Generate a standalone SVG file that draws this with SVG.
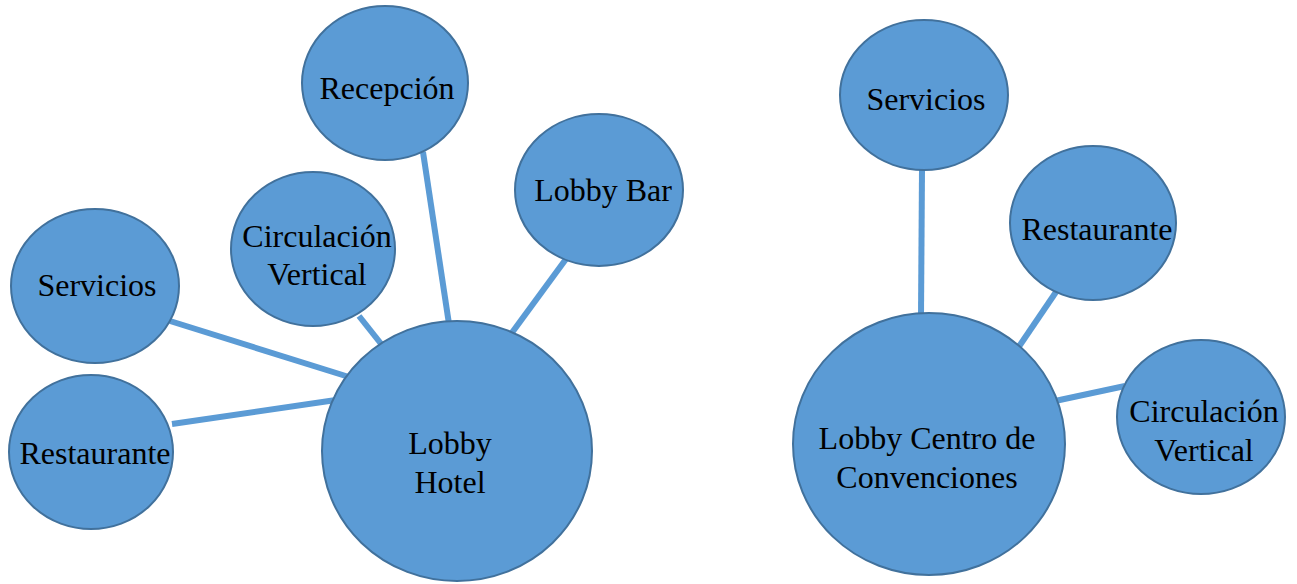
<svg xmlns="http://www.w3.org/2000/svg" width="1297" height="584" viewBox="0 0 1297 584">
<style>
.n{fill:#5b9bd5;stroke:#41719c;stroke-width:2}
.c{stroke:#5b9bd5;stroke-width:6;fill:none}
text{font-family:"Liberation Serif","Times New Roman",serif;font-size:32px;fill:#000;text-anchor:middle}
</style>
<rect width="1297" height="584" fill="#fff"/>
<g id="connectors">
<line class="c" x1="423" y1="152" x2="449" y2="324"/>
<line class="c" x1="566" y1="259" x2="511" y2="334"/>
<line class="c" x1="359" y1="316" x2="382" y2="345"/>
<line class="c" x1="170" y1="321" x2="349" y2="377"/>
<line class="c" x1="172" y1="424" x2="336" y2="400"/>
<line class="c" x1="922" y1="169" x2="921" y2="316"/>
<line class="c" x1="1056" y1="292" x2="1018" y2="348"/>
<line class="c" x1="1125" y1="386" x2="1055" y2="401"/>
</g>
<g id="recepcion"><ellipse class="n" cx="385" cy="83" rx="83" ry="77"/><text x="387" y="99">Recepción</text></g>
<g id="lobby-bar"><ellipse class="n" cx="599" cy="190" rx="84" ry="76"/><text x="603" y="201">Lobby Bar</text></g>
<g id="circulacion-hotel"><ellipse class="n" cx="313" cy="249" rx="82" ry="77"/><text x="317" y="247">Circulación</text><text x="317" y="285">Vertical</text></g>
<g id="servicios-hotel"><ellipse class="n" cx="95" cy="286" rx="84" ry="77"/><text x="97" y="296">Servicios</text></g>
<g id="restaurante-hotel"><ellipse class="n" cx="91" cy="452" rx="82" ry="77"/><text x="95" y="464">Restaurante</text></g>
<g id="lobby-hotel"><ellipse class="n" cx="457" cy="451" rx="135" ry="130"/><text x="450" y="454">Lobby</text><text x="450" y="493">Hotel</text></g>
<g id="servicios-centro"><ellipse class="n" cx="924" cy="95" rx="84" ry="75"/><text x="926" y="110">Servicios</text></g>
<g id="restaurante-centro"><ellipse class="n" cx="1093" cy="223" rx="83" ry="77"/><text x="1097" y="240">Restaurante</text></g>
<g id="circulacion-centro"><ellipse class="n" cx="1201" cy="417" rx="84" ry="77"/><text x="1204" y="422">Circulación</text><text x="1204" y="461">Vertical</text></g>
<g id="lobby-centro"><ellipse class="n" cx="929" cy="444" rx="136" ry="131"/><text x="927" y="449">Lobby Centro de</text><text x="927" y="488">Convenciones</text></g>
</svg>
